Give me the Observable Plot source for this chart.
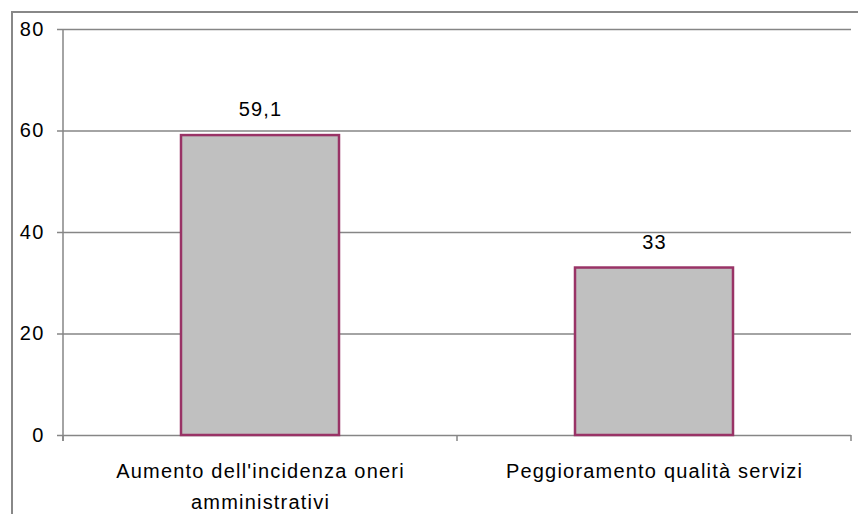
<!DOCTYPE html>
<html>
<head>
<meta charset="utf-8">
<script src="https://cdn.jsdelivr.net/npm/d3@7"></script>
<script src="https://cdn.jsdelivr.net/npm/@observablehq/plot@0.6"></script>
<style>
  html, body { margin: 0; padding: 0; background: white; overflow: hidden; }
  #wrap { position: relative; width: 858px; height: 514px; }
  #border { position: absolute; left: 11px; top: 11px; width: 900px; height: 600px;
            border-left: 2px solid #888; border-top: 2px solid #888; pointer-events: none; }
  #wrap svg { position: absolute; left: 0; top: 0; }
  #wrap svg text { letter-spacing: 1.2px; }
</style>
</head>
<body>
<div id="wrap"><div id="border"></div></div>
<script>
const categories = ["Aumento dell'incidenza oneri amministrativi", "Peggioramento qualità servizi"];
const values = [59.1, 33];
const valueLabels = ["59,1", "33"];
const xTickLabels = ["Aumento dell'incidenza oneri\namministrativi", "Peggioramento qualità servizi"];
const yTicks = [0, 20, 40, 60, 80];

const data = categories.map((c, i) => ({cat: c, val: values[i], label: valueLabels[i], tick: xTickLabels[i]}));

const GRID = "#868686";

function frameLines(index, scales, values, dimensions) {
  const {width, height, marginLeft, marginRight, marginTop, marginBottom} = dimensions;
  const left = marginLeft, right = width - marginRight, bottom = height - marginBottom;
  const n = categories.length;
  const g = d3.create("svg:g").attr("stroke", GRID).attr("stroke-width", 1.5);
  g.append("line").attr("x1", left).attr("x2", left).attr("y1", marginTop).attr("y2", bottom + 6);
  for (let i = 0; i <= n; i++) {
    const bx = left + i * (right - left) / n;
    g.append("line").attr("x1", bx).attr("x2", bx).attr("y1", bottom).attr("y2", bottom + 6);
  }
  return g.node();
}

const chart = Plot.plot({
  width: 858,
  height: 514,
  marginLeft: 63,
  marginRight: 7,
  marginTop: 29,
  marginBottom: 79,
  style: {fontFamily: "'Liberation Sans', Arial, sans-serif", color: "black", background: "transparent", overflow: "visible"},
  x: {domain: categories, paddingInner: 0.6, paddingOuter: 0.3, axis: null},
  y: {domain: [0, 80], axis: null},
  marks: [
    Plot.ruleY(yTicks, {stroke: GRID, strokeWidth: 1.5}),
    Plot.axisY({ticks: yTicks, label: null, tickSize: 6, tickPadding: 13, fontSize: 20, stroke: GRID, strokeWidth: 1.5, tickFormat: d => String(d)}),
    frameLines,
    Plot.barY(data, {x: "cat", y: "val", fill: "#c0c0c0", stroke: "#993366", strokeWidth: 2.5}),
    Plot.text(data, {x: "cat", y: "val", text: "label", dy: -25.5, lineAnchor: "middle", fontSize: 20, fill: "black"}),
    Plot.text(data, {x: "cat", y: 0, text: "tick", dy: 20, lineAnchor: "top", lineHeight: 1.55, fontSize: 20, fill: "black"})
  ]
});
document.getElementById("wrap").appendChild(chart);
</script>
</body>
</html>
